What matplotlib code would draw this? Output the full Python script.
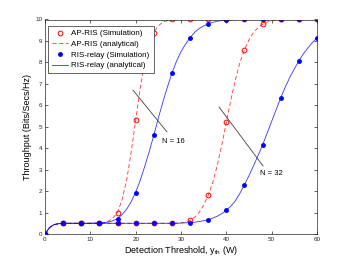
import matplotlib
matplotlib.use("Agg")
import matplotlib.pyplot as plt
import numpy as np

plt.rcParams['font.family'] = ['Liberation Sans', 'DejaVu Sans']
plt.rcParams['mathtext.fontset'] = 'custom'
plt.rcParams['mathtext.rm'] = 'Liberation Sans'

# Simulation points
x_sim = [0, 4, 8, 12, 16, 20, 24, 28, 32, 36, 40, 44, 48, 52, 56, 60]
ap16_sim = [0, 0.5, 0.5, 0.5, 1.0, 5.3, 9.37, 10, 10, 10, 10, 10, 10, 10, 10, 10]
relay16_sim = [0, 0.5, 0.5, 0.5, 0.7, 1.9, 4.6, 7.5, 9.15, 9.8, 9.96, 10, 10, 10, 10, 10]
ap32_sim = [0, 0.5, 0.5, 0.5, 0.5, 0.5, 0.5, 0.5, 0.65, 1.8, 5.2, 8.6, 9.8, 10, 10, 10]
relay32_sim = [0, 0.5, 0.5, 0.5, 0.5, 0.5, 0.5, 0.5, 0.51, 0.65, 1.12, 2.28, 4.15, 6.35, 8.07, 9.15]

# Analytical curves (read at unit steps, x = 0..60)
x_an = list(range(0, 61))
ap16_an = [0, 0.3, 0.44, 0.48, 0.49, 0.5, 0.5, 0.5, 0.5, 0.5, 0.5, 0.5,
           0.51, 0.53, 0.6, 0.75, 1.0, 1.6, 2.5, 3.8, 5.3, 6.8, 8.0, 8.9,
           9.4, 9.7, 9.88, 9.95, 9.99] + [10] * 32
relay16_an = [0, 0.3, 0.44, 0.48, 0.49, 0.5, 0.5, 0.5, 0.5, 0.5, 0.5, 0.51,
              0.52, 0.53, 0.56, 0.62, 0.72, 0.9, 1.15, 1.5, 1.95, 2.5, 3.15, 3.85,
              4.6, 5.4, 6.15, 6.85, 7.5, 8.05, 8.5, 8.85, 9.15, 9.4, 9.58, 9.7,
              9.8, 9.87, 9.92, 9.95, 9.97, 9.98, 9.99] + [10] * 18
ap32_an = [0, 0.3, 0.44, 0.48, 0.49] + [0.5] * 24 + \
          [0.51, 0.52, 0.56, 0.63, 0.78, 1.0, 1.35, 1.8, 2.4, 3.2, 4.15, 5.2,
           6.25, 7.2, 8.0, 8.6, 9.05, 9.4, 9.62, 9.78, 9.88, 9.94, 9.97, 9.99] + [10] * 8
relay32_an = [0, 0.3, 0.44, 0.48, 0.49] + [0.5] * 25 + \
             [0.51, 0.52, 0.53, 0.55, 0.58, 0.62, 0.67, 0.74, 0.83, 0.95, 1.1, 1.3,
              1.55, 1.9, 2.3, 2.72, 3.18, 3.66, 4.15, 4.7, 5.25, 5.8, 6.35, 6.85,
              7.3, 7.7, 8.07, 8.4, 8.68, 8.93, 9.15]

fig = plt.figure(figsize=(3.5, 2.63), dpi=100)
ax = fig.add_axes([45/350, 1 - 234/263, (317 - 45)/350, (234 - 19.5)/263])

red = '#ff0000'
blue = '#0000ff'
lw = 0.6

h1, = ax.plot(x_sim, ap16_sim, 'o', mfc='none', mec=red, ms=3.4, mew=0.7, label='AP-RIS (Simulation)')
ax.plot(x_sim, ap32_sim, 'o', mfc='none', mec=red, ms=3.4, mew=0.7)
h2, = ax.plot(x_an, ap16_an, '--', color=red, lw=lw, dashes=(5, 3), alpha=0.8, label='AP-RIS (analytical)')
ax.plot(x_an, ap32_an, '--', color=red, lw=lw, dashes=(5, 3), alpha=0.8)
h3, = ax.plot(x_sim, relay16_sim, '.', color=blue, ms=5, label='RIS-relay (Simulation)')
ax.plot(x_sim, relay32_sim, '.', color=blue, ms=5)
h4, = ax.plot(x_an, relay16_an, '-', color=blue, lw=lw, alpha=0.8, label='RIS-relay (analytical)')
ax.plot(x_an, relay32_an, '-', color=blue, lw=lw, alpha=0.8)

# annotations
ax.plot([19.4, 26.9], [6.71, 4.76], color='#404040', lw=0.6)
ax.text(25.8, 4.29, 'N = 16', fontsize=5.5, va='center', ha='left')
ax.plot([38.4, 48.1], [5.92, 3.17], color='#404040', lw=0.6)
ax.text(47.4, 2.84, 'N = 32', fontsize=5.5, va='center', ha='left')

ax.set_xlim(0, 60)
ax.set_ylim(0, 10)
ax.set_xticks(range(0, 61, 10))
ax.set_yticks(range(0, 11))
ax.tick_params(direction='in', top=True, right=True, length=2, width=0.5,
               labelsize=4.5, pad=2, colors='#262626')
for s in ax.spines.values():
    s.set_color('#262626')
    s.set_linewidth(0.5)

ax.set_xlabel(r'Detection Threshold, y$_{\rm th}$ (W)', fontsize=6.5, labelpad=1.5)
ax.set_ylabel('Throughput (Bits/Secs/Hz)', fontsize=6.5, labelpad=2)

leg = ax.legend(handles=[h1, h2, h3, h4], loc='upper left',
                bbox_to_anchor=(47.7/350, 1 - 25.7/263), bbox_transform=fig.transFigure,
                borderaxespad=0, fontsize=5.8, fancybox=False, framealpha=1,
                edgecolor='#262626', handlelength=2.0, handletextpad=0.45,
                borderpad=0.5, labelspacing=0.38)
leg.get_frame().set_linewidth(0.5)

fig.savefig('out.png', dpi=100)
